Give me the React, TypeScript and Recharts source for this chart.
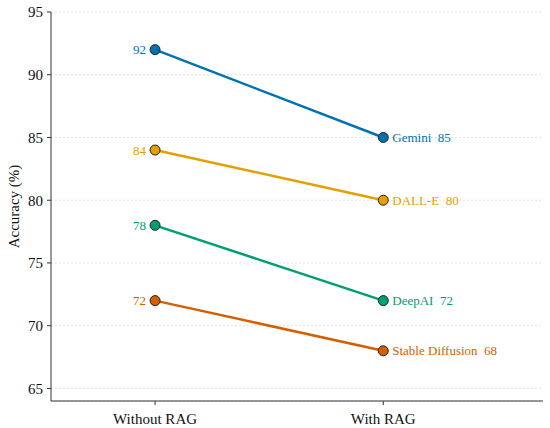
import { LineChart, Line, XAxis, YAxis, CartesianGrid, LabelList } from 'recharts'

const categories = ['Without RAG', 'With RAG']
const models = ['Gemini', 'DALL-E', 'DeepAI', 'Stable Diffusion']
const withoutRag = [92, 84, 78, 72]
const withRag = [85, 80, 72, 68]
const colors = ['#0072B2', '#E69F00', '#009E73', '#D55E00']
const yTicks = [65, 70, 75, 80, 85, 90, 95]

const FONT = '"Liberation Serif", "Times New Roman", serif'

const data = categories.map((_, i) => {
  const row: Record<string, number> = { x: i }
  models.forEach((m, j) => {
    row[m] = i === 0 ? withoutRag[j] : withRag[j]
  })
  return row
})

const makeLabel = (name: string, color: string) => (props: any) => {
  const { x, y, index, value } = props
  if (index === 0) {
    return (
      <text x={x - 9} y={y} dy="0.35em" textAnchor="end" fill={color} fontSize={13} fontFamily={FONT}>
        {value}
      </text>
    )
  }
  return (
    <text x={x + 9} y={y} dy="0.35em" textAnchor="start" fill={color} fontSize={13} fontFamily={FONT}>
      {`${name}\u00a0\u00a0${value}`}
    </text>
  )
}

export default function App() {
  return (
    <div style={{ position: 'absolute', left: 0, top: 0, width: 550, height: 428, background: '#fff' }}>
      <LineChart width={550} height={428} data={data} margin={{ top: 12, right: 7, bottom: 0, left: 0 }}>
        <CartesianGrid vertical={false} stroke="#e2e2e2" strokeDasharray="2 2" />
        <XAxis
          type="number"
          dataKey="x"
          domain={[-0.456, 1.7]}
          ticks={[0, 1]}
          tickFormatter={(i: number) => categories[i]}
          height={27}
          tickSize={4}
          tickMargin={8}
          stroke="#333"
          tick={{ fill: '#111', fontSize: 15, fontFamily: FONT }}
          allowDataOverflow
        />
        <YAxis
          type="number"
          domain={[64, 95]}
          ticks={yTicks}
          width={51}
          tickSize={4}
          tickMargin={4}
          stroke="#333"
          tick={{ fill: '#111', fontSize: 15, fontFamily: FONT }}
          allowDataOverflow
          label={({ viewBox }: any) => (
            <text
              x={14}
              y={viewBox.y + viewBox.height / 2}
              transform={`rotate(-90, 14, ${viewBox.y + viewBox.height / 2})`}
              textAnchor="middle"
              dy="0.35em"
              fill="#111"
              fontSize={15}
              fontFamily={FONT}
            >
              Accuracy (%)
            </text>
          )}
        />
        {models.map((m, j) => (
          <Line
            key={m}
            dataKey={m}
            stroke={colors[j]}
            strokeWidth={2.5}
            dot={{ r: 5, fill: colors[j], stroke: '#222', strokeWidth: 1 }}
            activeDot={false}
            isAnimationActive={false}
          >
            <LabelList dataKey={m} content={makeLabel(m, colors[j])} />
          </Line>
        ))}
      </LineChart>
    </div>
  )
}
